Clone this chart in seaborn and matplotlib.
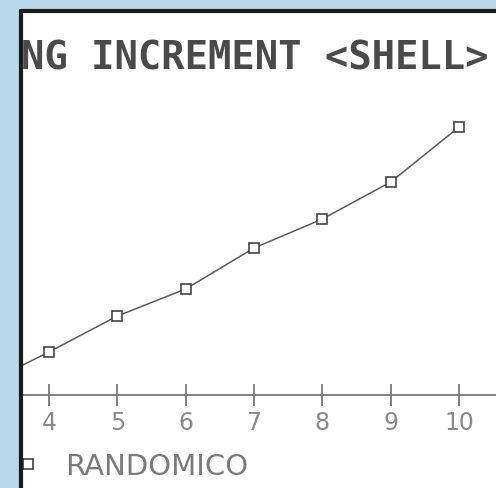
import numpy as np
import pandas as pd
import matplotlib
matplotlib.use("Agg")
import matplotlib.pyplot as plt
import seaborn as sns

# values (arbitrary units, axis has no y labels)
n_values = [3, 4, 5, 6, 7, 8, 9, 10]
times = [0.9, 4.3, 7.9, 10.6, 14.7, 17.6, 21.3, 26.8]
x_ticks = [4, 5, 6, 7, 8, 9, 10]
title_text = "NG INCREMENT <SHELL>"
series_name = "RANDOMICO"

df = pd.DataFrame({"n": n_values, "t": times, "serie": series_name})

sns.set_style("white")
W, H = 496, 489
fig = plt.figure(figsize=(W / 100, H / 100), dpi=100)
fig.patch.set_facecolor("#b9d8e9")

# white paper with thick black border on left and top
paper = plt.Rectangle((21 / W, 0), 1, 1 - 12 / H, transform=fig.transFigure,
                      facecolor="white", edgecolor="none", zorder=-10)
fig.add_artist(paper)
fig.add_artist(plt.Line2D([21 / W, 21 / W], [0, 1 - 12 / H], color="#1a1a1a", lw=3,
                          transform=fig.transFigure, zorder=5))
fig.add_artist(plt.Line2D([21 / W, 1], [1 - 12 / H, 1 - 12 / H], color="#1a1a1a", lw=3,
                          transform=fig.transFigure, zorder=5))

ax = fig.add_axes([23 / W, (H - 396) / H, (W - 23) / W, (396 - 14) / H])
ax.set_zorder(2)
ax.set_facecolor("none")
sns.lineplot(data=df, x="n", y="t", hue="serie", palette=["#5a5a5a"], marker="s",
             markersize=7, markerfacecolor="white", markeredgecolor="#444444",
             markeredgewidth=1.2, linewidth=1.1, ax=ax)

ax.set_xlim(3.62, 10.54)
ax.set_ylim(0, 38.2)
for s in ["top", "right", "left"]:
    ax.spines[s].set_visible(False)
ax.spines["bottom"].set_color("#777777")
ax.spines["bottom"].set_linewidth(1.3)
ax.set_xticks(x_ticks)
ax.set_xticklabels([str(v) for v in x_ticks], fontfamily="DejaVu Sans", fontsize=17,
                   color="#8a8a8a")
ax.tick_params(axis="x", bottom=True, direction="inout", length=16, width=1.3,
               color="#777777", pad=3)
ax.set_yticks([])
ax.set_xlabel("")
ax.set_ylabel("")

fig.text(21 / W, 1 - 58 / H, title_text, fontfamily="DejaVu Sans Mono", fontweight="bold",
         fontsize=28, color="#4a4a4a", ha="left", va="center", zorder=4)

leg = ax.legend(loc="center left", bbox_to_anchor=(2 / W, 1 - 467 / H),
                bbox_transform=fig.transFigure, frameon=False, handlelength=0,
                handletextpad=1.25, prop={"family": "DejaVu Sans", "size": 21})
for t in leg.get_texts():
    t.set_color("#7a7a7a")

fig.savefig("out.png", dpi=100, facecolor=fig.get_facecolor())
